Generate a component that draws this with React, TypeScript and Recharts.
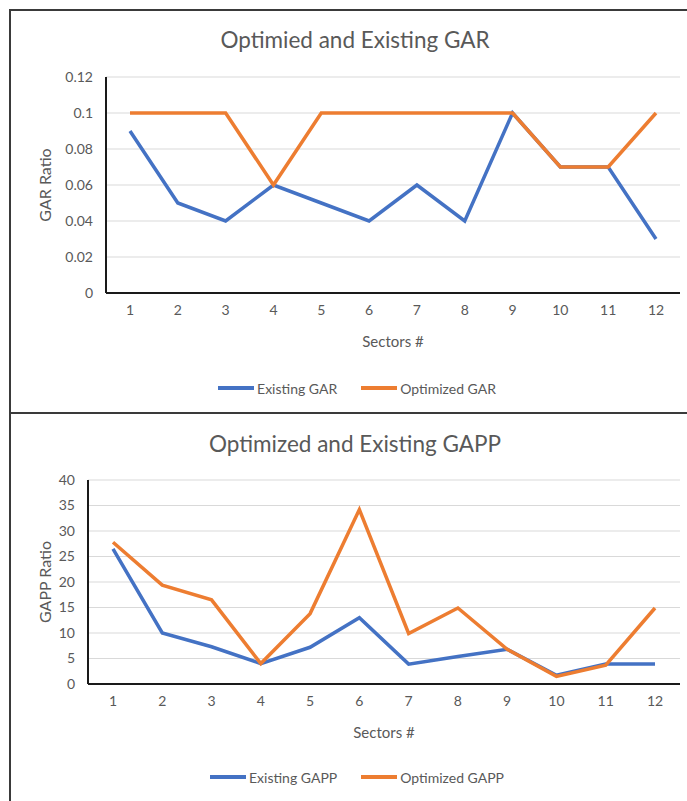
import { LineChart, Line, XAxis, YAxis, CartesianGrid, Legend } from 'recharts';

const sectors = ['1', '2', '3', '4', '5', '6', '7', '8', '9', '10', '11', '12'];

const existingGar = [0.09, 0.05, 0.04, 0.06, 0.05, 0.04, 0.06, 0.04, 0.1, 0.07, 0.07, 0.03];
const optimizedGar = [0.1, 0.1, 0.1, 0.06, 0.1, 0.1, 0.1, 0.1, 0.1, 0.07, 0.07, 0.1];
const garTicks = [0, 0.02, 0.04, 0.06, 0.08, 0.1, 0.12];

const existingGapp = [26.5, 10, 7.3, 4, 7.2, 13, 3.9, 5.4, 6.8, 1.7, 3.9, 3.9];
const optimizedGapp = [27.8, 19.4, 16.5, 4, 13.8, 34.2, 9.9, 14.9, 6.8, 1.5, 3.7, 14.9];
const gappTicks = [0, 5, 10, 15, 20, 25, 30, 35, 40];

const FONT = 'Lato, "Open Sans", sans-serif';
const GRAY = '#595959';
const BLUE = '#4472C4';
const ORANGE = '#ED7D31';

const garData = sectors.map((s, i) => ({ sector: s, existing: existingGar[i], optimized: optimizedGar[i] }));
const gappData = sectors.map((s, i) => ({ sector: s, existing: existingGapp[i], optimized: optimizedGapp[i] }));

function LegendRow({ names }: { names: string[] }) {
  const colors = [BLUE, ORANGE];
  return (
    <div style={{ display: 'flex', justifyContent: 'center', gap: 24, height: 20, alignItems: 'center', fontFamily: FONT, fontSize: 14, color: GRAY }}>
      {names.map((n, i) => (
        <div key={n} style={{ display: 'flex', alignItems: 'center' }}>
          <svg width={36} height={8}>
            <line x1={0} y1={4} x2={36} y2={4} stroke={colors[i]} strokeWidth={4} />
          </svg>
          <span style={{ marginLeft: 3 }}>{n}</span>
        </div>
      ))}
    </div>
  );
}

interface PanelProps {
  top: number;
  height: number;
  title: string;
  titleTop: number;
  data: { sector: string; existing: number; optimized: number }[];
  ticks: number[];
  yLabel: string;
  names: string[];
  marginTop: number;
  marginBottom: number;
  yWidth: number;
  xPad: number;
  legendTop: number;
}

function Panel(p: PanelProps) {
  return (
    <div style={{ position: 'absolute', left: 0, top: p.top, width: 700, height: p.height }}>
      <div style={{ position: 'absolute', left: 10, width: 690, top: p.titleTop, textAlign: 'center', fontFamily: FONT, fontSize: 22.5, lineHeight: '26px', color: GRAY }}>
        {p.title}
      </div>
      <LineChart
        width={700}
        height={p.height}
        data={p.data}
        margin={{ top: p.marginTop, left: 30, right: 20, bottom: p.marginBottom }}
        style={{ position: 'absolute', left: 0, top: 0 }}
      >
        <CartesianGrid vertical={false} stroke="#d9d9d9" strokeWidth={1} />
        <XAxis
          dataKey="sector"
          padding={{ left: p.xPad, right: p.xPad }}
          interval={0}
          height={56}
          tickLine={false}
          tickSize={0}
          tickMargin={12}
          axisLine={{ stroke: '#1a1a1a', strokeWidth: 2 }}
          tick={{ fill: GRAY, fontSize: 14, fontFamily: FONT }}
          label={{ value: 'Sectors #', position: 'insideBottom', offset: 2, fill: GRAY, fontSize: 15, fontFamily: FONT }}
        />
        <YAxis
          width={p.yWidth}
          domain={[p.ticks[0], p.ticks[p.ticks.length - 1]]}
          ticks={p.ticks}
          interval={0}
          tickLine={false}
          tickSize={0}
          tickMargin={13}
          axisLine={{ stroke: '#1a1a1a', strokeWidth: 2 }}
          tick={{ fill: GRAY, fontSize: 14, fontFamily: FONT }}
          label={{ value: p.yLabel, angle: -90, position: 'insideLeft', offset: 15, fill: GRAY, fontSize: 16, fontFamily: FONT, style: { textAnchor: 'middle' } }}
        />
        <Legend
          verticalAlign="bottom"
          wrapperStyle={{ top: p.legendTop, left: 10, width: 694, height: 20 }}
          content={() => <LegendRow names={p.names} />}
        />
        <Line dataKey="existing" name={p.names[0]} stroke={BLUE} strokeWidth={3.5} dot={false} isAnimationActive={false} />
        <Line dataKey="optimized" name={p.names[1]} stroke={ORANGE} strokeWidth={3.5} dot={false} isAnimationActive={false} />
      </LineChart>
    </div>
  );
}

export default function App() {
  return (
    <div style={{ position: 'absolute', left: 0, top: 0, width: 687, height: 801, overflow: 'hidden', background: '#fff' }}>
      <div style={{ position: 'absolute', left: 9, top: 9, width: 720, height: 405, border: '2px solid #3a3a3a', boxSizing: 'border-box' }} />
      <div style={{ position: 'absolute', left: 9, top: 412, width: 720, height: 420, border: '2px solid #3a3a3a', boxSizing: 'border-box' }} />
      <Panel
        top={0}
        height={412}
        title="Optimied and Existing GAR"
        titleTop={27}
        data={garData}
        ticks={garTicks}
        yLabel="GAR Ratio"
        names={['Existing GAR', 'Optimized GAR']}
        marginTop={77}
        marginBottom={43}
        yWidth={76}
        xPad={24}
        legendTop={378}
      />
      <Panel
        top={413}
        height={388}
        title="Optimized and Existing GAPP"
        titleTop={18}
        data={gappData}
        ticks={gappTicks}
        yLabel="GAPP Ratio"
        names={['Existing GAPP', 'Optimized GAPP']}
        marginTop={67}
        marginBottom={41}
        yWidth={58}
        xPad={25}
        legendTop={354}
      />
    </div>
  );
}
